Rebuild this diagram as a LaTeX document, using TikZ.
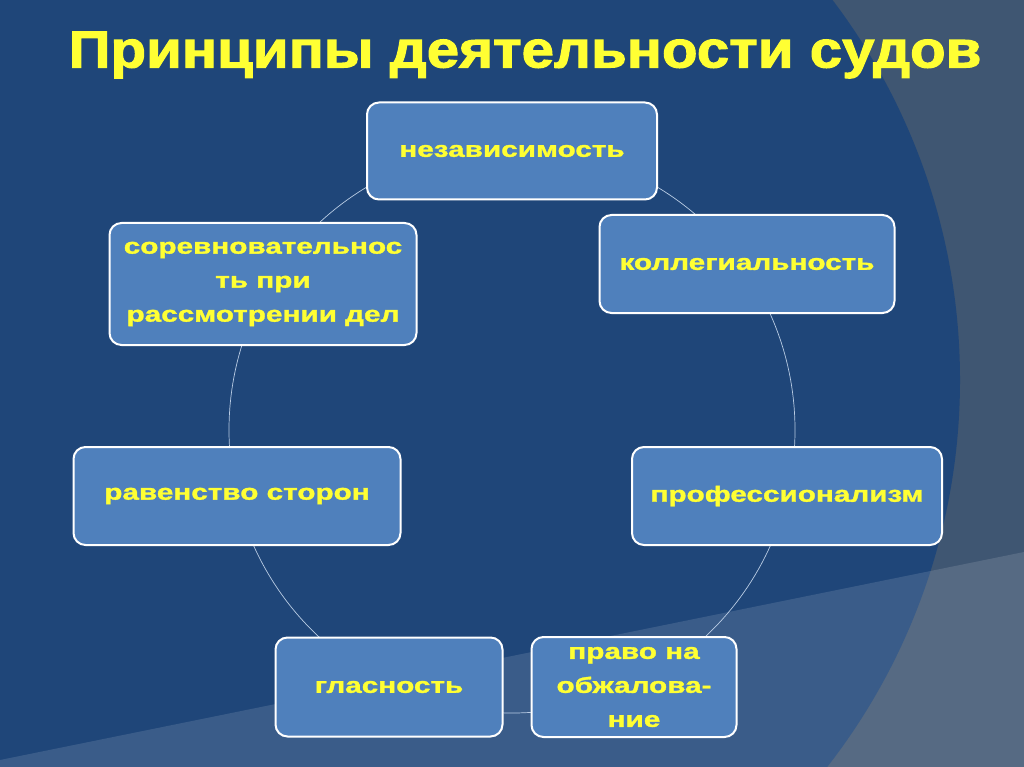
\documentclass[tikz,border=0pt]{standalone}
\usepackage{fontspec}
\setmainfont{Liberation Sans}
\newfontfamily\widefont[FakeStretch=1.35,FakeBold=1.5]{Liberation Sans Bold}
\newfontfamily\titlefont[FakeStretch=1.12,FakeBold=2]{Liberation Sans Bold}
\definecolor{slidebg}{HTML}{3F5672}
\definecolor{discblue}{HTML}{1F4679}
\definecolor{boxblue}{HTML}{4F80BC}
\definecolor{titleyel}{HTML}{FFFF33}
\begin{document}
\begin{tikzpicture}[x=1pt, y=-1pt]
        % styles of the boxes and the ring
        \tikzstyle{principle}=[draw=white, line width=2pt, fill=boxblue, rounded corners=12pt,
          text=titleyel, font=\widefont\fontsize{22}{34}\selectfont, align=center, inner sep=0pt]

        % background of the slide
        \fill[slidebg] (0,0) rectangle (1024,767);
        \useasboundingbox (0,0) rectangle (1024,767);
        \begin{scope}
          \clip (0,0) rectangle (1024,767);
          \fill[discblue] (330,380) circle (630);
          \fill[white, opacity=0.12] (0,767) -- (0,760) -- (1024,552) -- (1024,767) -- cycle;
        \end{scope}

        \node[text=titleyel, font=\titlefont\fontsize{52}{56}\selectfont] (title) at (525,55) {Принципы деятельности судов};

        \draw[white!60!boxblue, line width=0.7pt] (512,430) circle (283);

        \node[principle, minimum width=290pt, minimum height=97pt] (nez) at (512,151) {независимость};
        \node[principle, minimum width=295pt, minimum height=98pt] (koll) at (747,264) {коллегиальность};
        \node[principle, minimum width=307pt, minimum height=122pt] (sorev) at (263,284) {соревновательнос\\ть при\\рассмотрении дел};
        \node[principle, minimum width=327pt, minimum height=98pt] (raven) at (237,496) {равенство сторон};
        \node[principle, minimum width=310pt, minimum height=98pt] (prof) at (787,496) {профессионализм};
        \node[principle, minimum width=227pt, minimum height=99pt] (glas) at (389,687) {гласность};
        \node[principle, minimum width=205pt, minimum height=100pt] (pravo) at (634,687) {право на\\обжалова-\\ние};
      \end{tikzpicture}
\end{document}
